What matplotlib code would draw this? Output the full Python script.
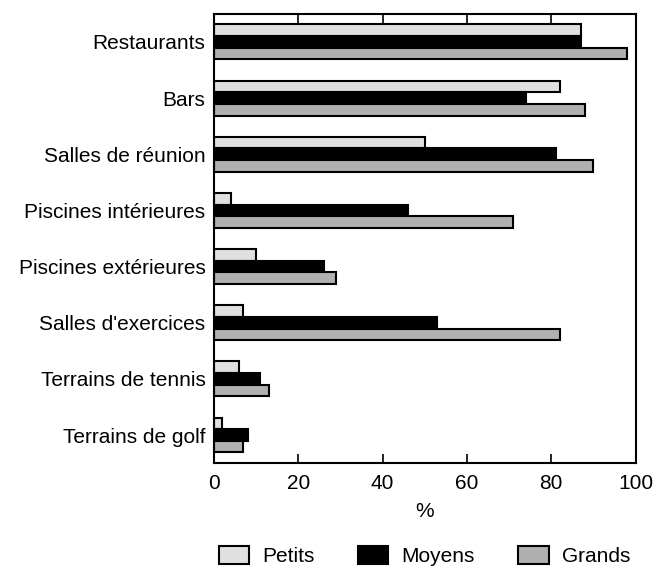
import matplotlib.pyplot as plt
import numpy as np

plt.rcParams['font.family'] = ['Liberation Sans', 'DejaVu Sans']

categories = ['Restaurants', 'Bars', 'Salles de réunion', 'Piscines intérieures',
              'Piscines extérieures', "Salles d'exercices", 'Terrains de tennis',
              'Terrains de golf']
petits = [87, 82, 50, 4, 10, 7, 6, 2]
moyens = [87, 74, 81, 46, 26, 53, 11, 8]
grands = [98, 88, 90, 71, 29, 82, 13, 7]
series_names = ['Petits', 'Moyens', 'Grands']
series_colors = ['#e0e0e0', '#000000', '#b0b0b0']

fig = plt.figure(figsize=(6.56, 5.76), dpi=100)
ax = fig.add_axes([0.326, 0.196, 0.643, 0.78])

y = np.arange(len(categories))
h = 0.207
for i, (vals, name, col) in enumerate(zip([petits, moyens, grands], series_names, series_colors)):
    ax.barh(y + (i - 1) * h, vals, height=h, color=col, edgecolor='black',
            linewidth=1.5, label=name)

ax.set_xlim(0, 100)
ax.set_ylim(len(categories) - 0.5, -0.5)
ax.set_yticks(y)
ax.set_yticklabels(categories, fontsize=15)
ax.set_xticks([0, 20, 40, 60, 80, 100])
ax.tick_params(axis='x', direction='in', top=True, length=6.5, width=1.2,
               labelsize=15, pad=8)
ax.tick_params(axis='y', length=0, pad=6)
for s in ax.spines.values():
    s.set_linewidth(1.5)
ax.set_xlabel('%', fontsize=15, labelpad=6)

fig.legend(loc='center', bbox_to_anchor=(0.647, 0.035), ncol=3, frameon=False,
           fontsize=15, handlelength=1.45, handleheight=1.0, handletextpad=0.62,
           columnspacing=2.1)

fig.savefig('out.png', dpi=100)
